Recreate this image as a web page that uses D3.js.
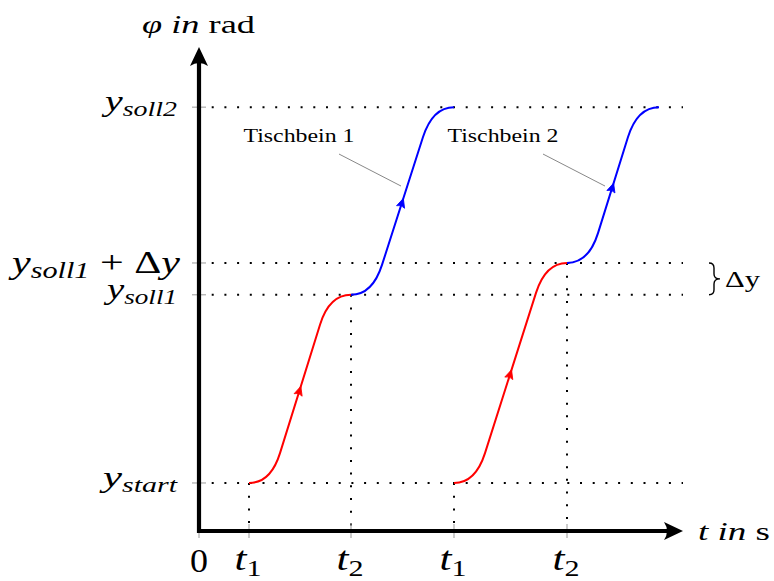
<!DOCTYPE html>
<html>
<head>
<meta charset="utf-8">
<script src="https://cdn.jsdelivr.net/npm/d3@7"></script>
<style>
html,body{margin:0;padding:0;background:#fff;}
svg{display:block;}
text{font-family:"Liberation Serif","Times New Roman",serif;fill:#000;}
</style>
</head>
<body>
<svg id="chart" width="774" height="581"></svg>
<script>
// ---------------- data ----------------
const tickTimes   = [0, 1.0, 3.04, 5.1, 7.36];
const tickMain    = ["0", "t", "t", "t", "t"];
const tickSub     = ["", "1", "2", "1", "2"];

const levelValues = [0.98, 4.82, 5.47, 8.65];
const levelMain   = ["y", "y", "y", "y"];
const levelSub    = ["start", "soll1", "soll1", "soll2"];
const levelSuffix = ["", "", " + Δy", ""];

// motion segments (start/end time, start/end angle), phase: lift / finish
const segStartT   = [1.0, 3.04, 5.1, 7.36];
const segEndT     = [3.04, 5.1, 7.36, 9.2];
const segStartPhi = [0.98, 4.82, 0.98, 5.47];
const segEndPhi   = [4.82, 8.65, 5.47, 8.65];
const segPhase    = ["first", "second", "first", "second"];
const bendT = 0.62, bendPhi = 0.61;   // size of rounded transitions (data units)

// vertical guide lines
const guideTimes  = [1.0, 3.04, 5.1, 7.36];
const guideTops   = [0.98, 4.82, 0.98, 5.47];

// annotations
const annoLabels  = ["Tischbein 1", "Tischbein 2"];
const annoT       = [4.04, 8.12];
const annoPhi     = [7.04, 7.04];

const tMax = 9.68, phiMax = 9.88;
const deltaLow = 4.82, deltaHigh = 5.47, deltaLabel = "Δy";

// ---------------- drawing ----------------
const svg = d3.select("#chart");
const x = d3.scaleLinear().domain([0, 10]).range([199, 699]);
const y = d3.scaleLinear().domain([0, 10]).range([531, 41]);
const phaseColor = {first: "#ff0000", second: "#0000ff"};

// dotted horizontal guides
svg.append("g").selectAll("line").data(levelValues).join("line")
  .attr("x1", x(0)).attr("x2", x(tMax))
  .attr("y1", d => y(d)).attr("y2", d => y(d))
  .attr("stroke", "#000").attr("stroke-width", 2)
  .attr("stroke-dasharray", "2 10.7");

// dotted vertical guides
svg.append("g").selectAll("line").data(guideTimes).join("line")
  .attr("x1", d => x(d)).attr("x2", d => x(d))
  .attr("y1", (d, i) => y(guideTops[i])).attr("y2", y(0))
  .attr("stroke", "#000").attr("stroke-width", 2)
  .attr("stroke-dasharray", "2 10.7");

// grey tick marks
svg.append("g").selectAll("line").data(tickTimes).join("line")
  .attr("x1", d => x(d)).attr("x2", d => x(d))
  .attr("y1", y(0) - 7).attr("y2", y(0) + 7)
  .attr("stroke", "#999").attr("stroke-width", 1);
svg.append("g").selectAll("line").data(levelValues).join("line")
  .attr("x1", x(0) - 7).attr("x2", x(0) + 7)
  .attr("y1", d => y(d)).attr("y2", d => y(d))
  .attr("stroke", "#999").attr("stroke-width", 1);

// curves
function segGeom(i) {
  const S = [x(segStartT[i]), y(segStartPhi[i])];
  const E = [x(segEndT[i]), y(segEndPhi[i])];
  const bx = x(bendT) - x(0), by = y(0) - y(bendPhi);
  const K1 = [S[0] + bx, S[1] - by];
  const K2 = [E[0] - bx, E[1] + by];
  const D = [K2[0] - K1[0], K2[1] - K1[1]];
  const s = by / Math.abs(D[1]);
  const C1 = [K1[0] - s * D[0], K1[1] - s * D[1]];
  const C2 = [K2[0] + s * D[0], K2[1] + s * D[1]];
  return {S, E, K1, K2, C1, C2, D};
}
const curves = svg.append("g");
segStartT.forEach((_, i) => {
  const g = segGeom(i);
  const p = d3.path();
  p.moveTo(g.S[0], g.S[1]);
  p.quadraticCurveTo(g.C1[0], g.C1[1], g.K1[0], g.K1[1]);
  p.lineTo(g.K2[0], g.K2[1]);
  p.quadraticCurveTo(g.C2[0], g.C2[1], g.E[0], g.E[1]);
  const col = phaseColor[segPhase[i]];
  curves.append("path").attr("d", p.toString())
    .attr("fill", "none").attr("stroke", col).attr("stroke-width", 2);
  // mid arrow
  const mx = (g.K1[0] + g.K2[0]) / 2 + 0.02 * g.D[0];
  const my = (g.K1[1] + g.K2[1]) / 2 + 0.02 * g.D[1];
  const ang = Math.atan2(g.D[1], g.D[0]) * 180 / Math.PI;
  curves.append("path")
    .attr("d", "M0,0 L-9,-4.2 Q-6,0 -9,4.2 Z")
    .attr("transform", `translate(${mx},${my}) rotate(${ang})`)
    .attr("fill", col).attr("stroke", col).attr("stroke-width", 0.8)
    .attr("stroke-linejoin", "round");
});

// axes (thick with arrow heads)
const axes = svg.append("g");
axes.append("line").attr("x1", x(0) - 2).attr("x2", x(tMax) - 12)
  .attr("y1", y(0)).attr("y2", y(0)).attr("stroke", "#000").attr("stroke-width", 4.2);
axes.append("line").attr("x1", x(0)).attr("x2", x(0))
  .attr("y1", y(0) + 2).attr("y2", y(phiMax) + 12).attr("stroke", "#000").attr("stroke-width", 4.2);
const head = "M0,0 L-19,-9 Q-13,0 -19,9 Z";
axes.append("path").attr("d", head)
  .attr("transform", `translate(${x(tMax)},${y(0)})`).attr("fill", "#000");
axes.append("path").attr("d", head)
  .attr("transform", `translate(${x(0)},${y(phiMax)}) rotate(-90)`).attr("fill", "#000");

// x tick labels
const xl = svg.append("g").selectAll("text").data(tickTimes).join("text")
  .attr("x", (d, i) => x(d) - (i === 0 ? 0 : 1)).attr("y", (d, i) => i === 0 ? 572 : 570)
  .attr("text-anchor", "middle").attr("font-size", 33)
  .attr("textLength", (d, i) => i === 0 ? 18 : 27).attr("lengthAdjust", "spacingAndGlyphs");
xl.each(function(d, i) {
  const t = d3.select(this);
  t.append("tspan").attr("font-style", i === 0 ? "normal" : "italic").text(tickMain[i]);
  if (tickSub[i]) t.append("tspan").attr("font-size", 23).attr("dy", 6).text(tickSub[i]);
});

// y tick labels
const labelWidths = [74, 70, 168, 72];
const yl = svg.append("g").selectAll("text").data(levelValues).join("text")
  .attr("x", (d, i) => levelSuffix[i] ? 180 : 177)
  .attr("y", (d, i) => y(d) + (levelSuffix[i] ? 10 : 4))
  .attr("text-anchor", "end").attr("font-size", (d, i) => levelSuffix[i] ? 32 : 30)
  .attr("textLength", (d, i) => labelWidths[i]).attr("lengthAdjust", "spacingAndGlyphs");
yl.each(function(d, i) {
  const t = d3.select(this);
  const big = !!levelSuffix[i];
  t.append("tspan").attr("font-style", "italic").text(levelMain[i]);
  t.append("tspan").attr("font-style", "italic").attr("font-size", big ? 23 : 21)
    .attr("dy", 5).text(levelSub[i]);
  if (big) {
    t.append("tspan").attr("dy", -5).text(" + Δ");
    t.append("tspan").attr("font-style", "italic").text("y");
  }
});

// axis titles
const yt = svg.append("text").attr("x", 142).attr("y", 33).attr("font-size", 25)
  .attr("textLength", 113).attr("lengthAdjust", "spacingAndGlyphs");
yt.append("tspan").attr("font-style", "italic").text("φ in");
yt.append("tspan").text(" rad");
const xt = svg.append("text").attr("x", 698).attr("y", 540).attr("font-size", 25)
  .attr("textLength", 72).attr("lengthAdjust", "spacingAndGlyphs");
xt.append("tspan").attr("font-style", "italic").text("t in");
xt.append("tspan").text(" s");

// annotations
annoLabels.forEach((lab, i) => {
  const ax = x(annoT[i]), ay = y(annoPhi[i]);
  const sx = ax - 62, sy = ay - 32;
  svg.append("line").attr("x1", sx).attr("y1", sy).attr("x2", ax).attr("y2", ay)
    .attr("stroke", "#888").attr("stroke-width", 1);
  svg.append("text").attr("x", sx - 40).attr("y", sy - 12)
    .attr("text-anchor", "middle").attr("font-size", 19.5)
    .attr("textLength", 111).attr("lengthAdjust", "spacingAndGlyphs").text(lab);
});

// Δy brace
const bx0 = x(tMax) + 26, bxm = bx0 + 5, bx1 = bx0 + 11;
const by0 = y(deltaHigh), by1 = y(deltaLow), bym = (by0 + by1) / 2, r = 5;
const bp = d3.path();
bp.moveTo(bx0, by0);
bp.quadraticCurveTo(bxm, by0, bxm, by0 + r);
bp.lineTo(bxm, bym - r);
bp.quadraticCurveTo(bxm, bym, bx1, bym);
bp.quadraticCurveTo(bxm, bym, bxm, bym + r);
bp.lineTo(bxm, by1 - r);
bp.quadraticCurveTo(bxm, by1, bx0, by1);
svg.append("path").attr("d", bp.toString()).attr("fill", "none")
  .attr("stroke", "#000").attr("stroke-width", 1.4);
svg.append("text").attr("x", bx1 + 5).attr("y", bym + 8).attr("font-size", 23)
  .attr("textLength", 35).attr("lengthAdjust", "spacingAndGlyphs").text(deltaLabel);
</script>
</body>
</html>
